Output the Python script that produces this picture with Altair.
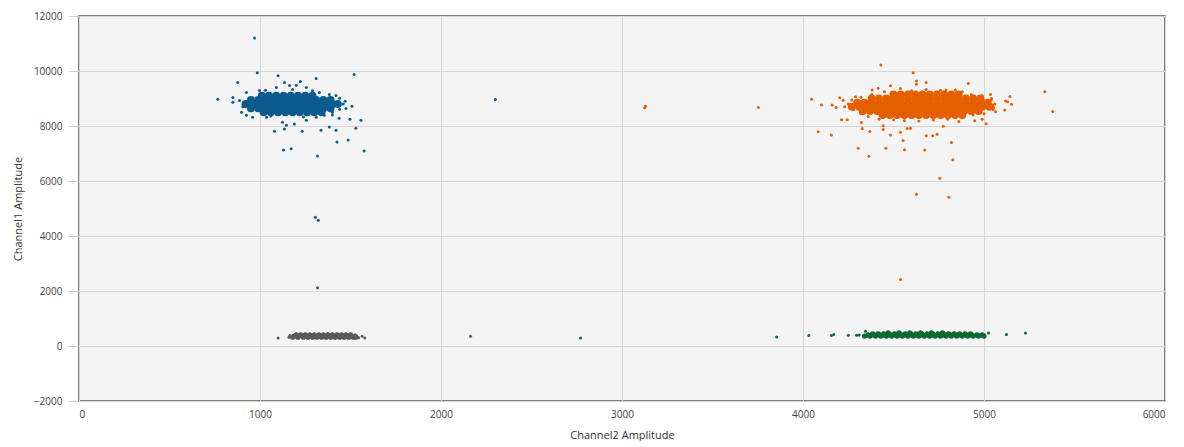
import altair as alt
import pandas as pd

# ---- Blue cluster (Ch1+ / Ch2-) ----
blue_core_x = [1010, 1050, 1090, 1130, 1170, 1210, 1250, 1290,
               950, 990, 1030, 1070, 1110, 1150, 1190, 1230, 1270, 1310, 1350, 1390,
               920, 960, 1000, 1040, 1080, 1120, 1160, 1200, 1240, 1280, 1320, 1360, 1400, 1430,
               950, 990, 1030, 1070, 1110, 1150, 1190, 1230, 1270, 1310, 1350, 1390,
               1020, 1060, 1100, 1140, 1180, 1220, 1260, 1300, 1340]
blue_core_y = [9100] * 8 + [8950] * 12 + [8800] * 14 + [8650] * 12 + [8500] * 9
blue_x = [970, 985, 1100, 1310, 1520, 877, 767, 1080, 1135, 1233, 1337, 1383, 1420, 1530,
          1558, 1497, 1437, 1425, 1487, 1575, 1130, 1172, 1318, 1306, 1322, 1318, 1508, 1475,
          1440, 1440, 1200, 1223, 1135, 1163, 1256, 850, 850, 887, 898, 925, 959, 1036, 1124,
          1146, 1190, 1256, 1311, 1355, 1400, 1410, 1420, 1383, 1328, 1090, 997, 925, 2300,
          905, 1460, 1470, 1060, 1240, 1030, 1180, 1290, 1400]
blue_y = [11200, 9940, 9830, 9730, 9870, 9580, 8970, 7810, 7890, 7810, 7850, 7960, 7850, 7920,
          8210, 8250, 8280, 7420, 7490, 7090, 7130, 7170, 6910, 4680, 4570, 2120, 8720, 8640,
          8610, 9010, 9480, 9620, 9580, 9470, 9400, 9040, 8860, 8930, 8500, 8390, 8320, 8320, 8140,
          8030, 8070, 8210, 8320, 8390, 8500, 8860, 9110, 9150, 9220, 9400, 9290, 9220, 8960,
          8700, 8800, 8900, 8360, 8330, 9300, 9330, 9280, 8400]

# ---- Orange cluster (Ch1+ / Ch2+) ----
orange_core_x = [4500, 4540, 4580, 4620, 4660, 4700, 4740, 4780, 4820, 4860,
                 4380, 4420, 4460, 4500, 4540, 4580, 4620, 4660, 4700, 4740, 4780, 4820, 4860, 4900, 4940, 4980,
                 4300, 4340, 4380, 4420, 4460, 4500, 4540, 4580, 4620, 4660, 4700, 4740, 4780, 4820, 4860, 4900, 4940, 4980, 5020,
                 4270, 4310, 4350, 4390, 4430, 4470, 4510, 4550, 4590, 4630, 4670, 4710, 4750, 4790, 4830, 4870, 4910, 4950, 4990, 5030,
                 4330, 4370, 4410, 4450, 4490, 4530, 4570, 4610, 4650, 4690, 4730, 4770, 4810, 4850, 4890, 4930, 4970,
                 4440, 4480, 4520, 4560, 4600, 4640, 4680, 4720, 4760, 4800, 4840, 4880]
orange_core_y = [9150] * 10 + [9000] * 16 + [8850] * 19 + [8700] * 20 + [8550] * 17 + [8400] * 12
orange_x = [4430, 4609, 4627, 4627, 4680, 4913, 4382, 4415, 4483, 4538, 4790, 4842, 4047, 4102,
            4161, 4183, 4203, 4222, 4290, 4213, 4244, 4084, 4157, 4323, 4327, 4369, 4443, 4443,
            4483, 4538, 4553, 4305, 4458, 4561, 4364, 4681, 4717, 4741, 4673, 4820, 4828, 4756,
            4627, 4806, 4576, 4594, 4775, 4861, 4949, 4990, 5012, 5036, 5041, 5054, 5064, 5049,
            5119, 5131, 5143, 5152, 5115, 5336, 5380, 4539, 3130, 3125, 3753,
            4250, 4230, 4280, 4320, 4360, 4420, 4500, 4560, 4640, 4720, 4800, 4880, 4940, 5000,
            5050, 5060, 5040, 4990, 4930, 4880, 4760, 4680, 4600, 4450, 4380, 4320, 4270]
orange_y = [10220, 9940, 9640, 9520, 9580, 9550, 9310, 9370, 9460, 9360, 9310, 9310, 8970, 8760,
            8760, 8670, 9030, 8940, 9060, 8230, 8230, 7790, 7670, 8130, 7910, 7800, 8010, 7870,
            7670, 7770, 7470, 7190, 7190, 7140, 6900, 7650, 7650, 7700, 7130, 7400, 6770, 6100,
            5520, 5410, 7910, 7920, 7990, 8160, 8190, 8250, 8080, 9150, 9000, 8670, 8520, 8760,
            8910, 8880, 9070, 8790, 8580, 9250, 8530, 2415, 8720, 8660, 8670,
            8800, 8700, 8600, 8450, 8350, 8250, 8230, 8200, 8180, 8220, 8250, 8300, 8400, 8450,
            8600, 8800, 8950, 9100, 9150, 9250, 9300, 9330, 9280, 9250, 9150, 9050, 8950]

# ---- Gray cluster (double negative) ----
gray_core_x = [1200, 1225, 1250, 1275, 1300, 1325, 1350, 1375, 1400, 1425, 1450, 1475, 1500,
               1180, 1210, 1240, 1265, 1290, 1315, 1340, 1365, 1390, 1415, 1440, 1465, 1490, 1515, 1530,
               1190, 1212, 1235, 1258, 1280, 1302, 1325, 1348, 1370, 1392, 1415, 1438, 1460, 1482, 1505, 1525]
gray_core_y = [400] * 13 + [320] * 15 + [360] * 16
gray_x = [1100, 1564, 1579, 2163, 1165, 1545, 1160]
gray_y = [293, 355, 293, 355, 380, 300, 320]

# ---- Green cluster (Ch1- / Ch2+) ----
green_core_x = [4340, 4370, 4400, 4430, 4460, 4490, 4520, 4550, 4580, 4610, 4640, 4670, 4700,
                4730, 4760, 4790, 4820, 4850, 4880, 4910, 4940, 4970, 5000,
                4385, 4415, 4445, 4475, 4505, 4535, 4565, 4595, 4625, 4655, 4685, 4715, 4745,
                4775, 4805, 4835, 4865, 4895, 4925,
                4360, 4392, 4422, 4452, 4482, 4512, 4542, 4572, 4602, 4632, 4662, 4692, 4722,
                4752, 4782, 4812, 4842, 4872, 4902, 4932, 4962, 4990,
                4470, 4530, 4590, 4650, 4710, 4770]
green_core_y = [360] * 23 + [440] * 19 + [400] * 22 + [480] * 6
green_x = [3854, 4032, 4157, 4170, 4250, 4296, 4345, 5124, 5229, 2771, 5025, 4310]
green_y = [330, 380, 380, 415, 390, 390, 535, 415, 474, 293, 470, 400]

colors = {"blue": "#0b5b8f", "orange": "#e35f00", "gray": "#5a5a5a", "green": "#0a6a30"}


def frame(xs, ys, cl):
    return pd.DataFrame({"x": xs, "y": ys, "c": cl})


big_core = pd.concat([frame(blue_core_x, blue_core_y, "blue"),
                      frame(orange_core_x, orange_core_y, "orange")])
thin_core = pd.concat([frame(gray_core_x, gray_core_y, "gray"),
                       frame(green_core_x, green_core_y, "green")])
pts = pd.concat([frame(gray_x, gray_y, "gray"),
                 frame(green_x, green_y, "green"),
                 frame(blue_x, blue_y, "blue"),
                 frame(orange_x, orange_y, "orange")])

dom = list(colors.keys())
rng = list(colors.values())

xenc = alt.X("x:Q", scale=alt.Scale(domain=[0, 6000], nice=False),
             axis=alt.Axis(title="Channel2 Amplitude", values=[0, 1000, 2000, 3000, 4000, 5000, 6000],
                           format="d", ticks=False, labelPadding=8, titlePadding=10))
yenc = alt.Y("y:Q", scale=alt.Scale(domain=[-2000, 12000], nice=False),
             axis=alt.Axis(title="Channel1 Amplitude", values=list(range(-2000, 12001, 2000)),
                           format="d", tickSize=11, tickColor="#cfcfcf", labelPadding=6, titlePadding=10))
cenc = alt.Color("c:N", scale=alt.Scale(domain=dom, range=rng), legend=None)

thin_layer = alt.Chart(thin_core).mark_circle(size=28, opacity=1).encode(x=xenc, y=yenc, color=cenc)
core_layer = alt.Chart(big_core).mark_circle(size=64, opacity=1).encode(x=xenc, y=yenc, color=cenc)
pt_layer = alt.Chart(pts).mark_circle(size=9, opacity=1).encode(x=xenc, y=yenc, color=cenc)

chart = alt.layer(thin_layer, core_layer, pt_layer).properties(
    width=1086, height=385,
    autosize=alt.AutoSizeParams(type="none"),
    padding={"left": 71, "top": 8, "right": 10, "bottom": 40},
).configure_view(
    fill="#f4f4f4", stroke="#5a5a5a", strokeWidth=1.5
).configure_axis(
    grid=True, gridColor="#d6d6d6", gridWidth=1, domain=False,
    labelFont="Open Sans", labelFontSize=10, labelColor="#444444",
    titleFont="Open Sans", titleFontSize=11, titleFontWeight="normal", titleColor="#333333",
)

chart.save("out.html", embed_options={"renderer": "svg", "actions": False})
